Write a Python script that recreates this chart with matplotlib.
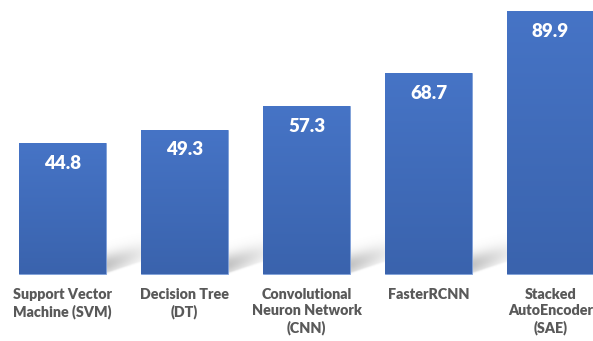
import numpy as np
import matplotlib
matplotlib.use("Agg")
import matplotlib.pyplot as plt
from matplotlib.colors import LinearSegmentedColormap

# data
categories = [
    "Support Vector\nMachine (SVM)",
    "Decision Tree\n(DT)",
    "Convolutional\nNeuron Network\n(CNN)",
    "FasterRCNN",
    "Stacked\nAutoEncoder\n(SAE)",
]
accuracy = [44.8, 49.3, 57.3, 68.7, 89.9]

W, H, DPI = 593, 341, 100
fig = plt.figure(figsize=(W / DPI, H / DPI), dpi=DPI)
ax = fig.add_axes([0, 0, 1, 1])
ax.set_axis_off()

# pixel layout: first bar centre at 62.5 px, pitch 122 px, baseline 67 px from bottom
pitch = 122.0
px_per_unit = 2.924
x0 = -62.5 / pitch
ax.set_xlim(x0, x0 + W / pitch)
y0 = -67 / px_per_unit
ax.set_ylim(y0, y0 + H / px_per_unit)

xs = np.arange(len(categories))
bar_w = 87 / pitch

# soft floor shadows behind bars
gap = 36 / pitch
for x, v in zip(xs, accuracy):
    xr = x + bar_w / 2
    nu, nv = 60, 80
    u = np.linspace(0, 36, nu)
    vv = np.linspace(0, 45, nv)
    U, V = np.meshgrid(u, vv)
    v_low = 2 + 0.33 * U
    d = V - v_low
    alpha = np.where(d > 0, 0.45 * np.exp(-((d - 7) / 11) ** 2),
                     0.45 * np.exp(-49 / 121) * np.exp(-(d / 1.5) ** 2))
    alpha *= np.clip(1.05 - U / 50, 0.3, 1)
    img = np.zeros((nv, nu, 4))
    img[..., :3] = 0.5
    img[..., 3] = alpha
    ax.imshow(img, extent=(xr, xr + gap, 0, 45 / px_per_unit), origin="lower",
              aspect="auto", interpolation="bilinear", zorder=1)

bars = ax.bar(xs, accuracy, width=bar_w, color="#4472C4", edgecolor="#7e9fd8",
              linewidth=0.6, zorder=2)

# vertical gradient inside each bar
cmap = LinearSegmentedColormap.from_list("g", ["#3a63ad", "#4674c6"])
grad = np.linspace(0, 1, 256).reshape(-1, 1)
for b, v in zip(bars, accuracy):
    im = ax.imshow(grad, extent=(b.get_x(), b.get_x() + b.get_width(), 0, v),
                   origin="lower", aspect="auto", cmap=cmap, zorder=2.5)
    im.set_clip_path(b)
    ax.text(b.get_x() + b.get_width() / 2, v - 20 / px_per_unit, f"{v:.1f}",
            ha="center", va="center", color="white", fontsize=13.5,
            fontweight=800, family="Lato", zorder=3)

for x, lab in zip(xs, categories):
    ax.text(x, -14 / px_per_unit, lab, ha="center", va="top", color="#595959",
            fontsize=10.3, fontweight=800, family="Lato", linespacing=1.27)

fig.savefig("out.png", dpi=DPI)
